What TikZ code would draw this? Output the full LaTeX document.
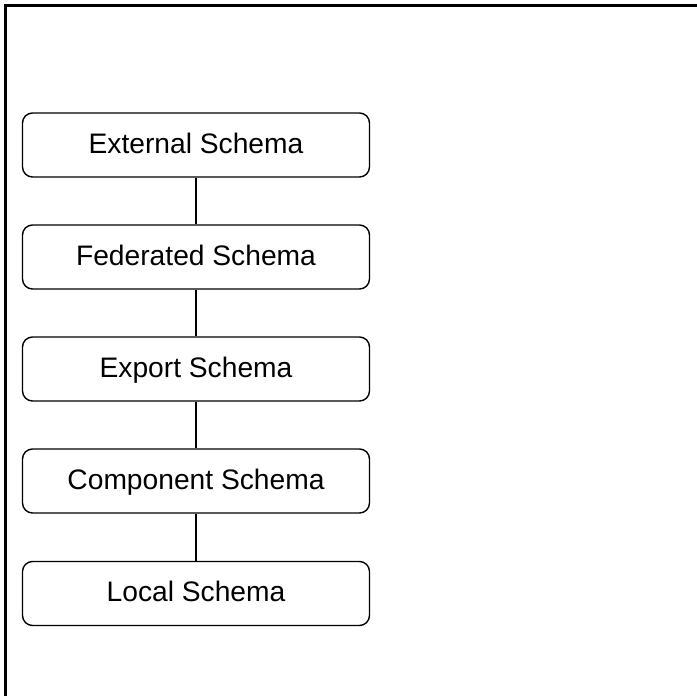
\documentclass[tikz,border=0pt]{standalone}
\usepackage{fontspec}
\setmainfont{Liberation Sans}
\begin{document}
\begin{tikzpicture}[x=1pt,y=-1pt,
  schemabox/.style={draw=black, line width=1.4pt, rounded corners=10pt,
    minimum width=347pt, minimum height=64pt, inner sep=0pt,
    text height=20pt, text depth=4pt,
    font=\fontsize{28.2}{32}\selectfont},
  link/.style={draw=black, line width=1.4pt}]
  \useasboundingbox (0,0) rectangle (697,696);
  \clip (0,0) rectangle (697,696);
  % outer frame (right and bottom edges lie beyond the page)
  \draw[line width=2.2pt] (5.5,710) -- (5.5,5.5) -- (710,5.5);
  % schema layers
  \node[schemabox] (ext)  at (196,145) {External Schema};
  \node[schemabox] (fed)  at (196,257) {Federated Schema};
  \node[schemabox] (exp)  at (196,369) {Export Schema};
  \node[schemabox] (comp) at (196,481) {Component Schema};
  \node[schemabox] (loc)  at (196,593.5) {Local Schema};
  % connectors between layers
  \draw[link] (ext) -- (fed);
  \draw[link] (fed) -- (exp);
  \draw[link] (exp) -- (comp);
  \draw[link] (comp) -- (loc);
\end{tikzpicture}
\end{document}
